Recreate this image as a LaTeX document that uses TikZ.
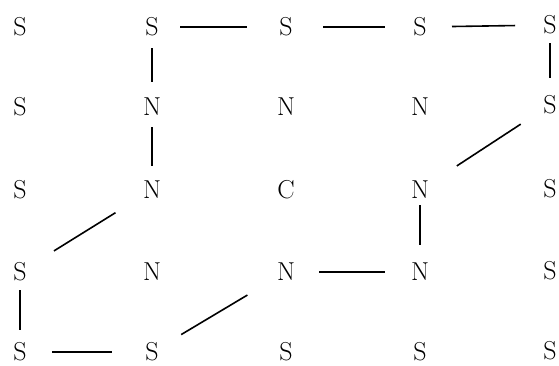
\documentclass[tikz,border=0pt]{standalone}
\usepackage{graphicx}
\newcommand\atomtxt[1]{\scalebox{1.5}{\fontsize{17.28}{20}\selectfont #1}}
\begin{document}
\begin{tikzpicture}[x=1pt,y=-1pt,
  atom/.style={inner sep=0pt},
  conn/.style={line width=1.6pt}]
\useasboundingbox (0,0) rectangle (559,365);
% row 0
\node[atom] (a00) at (20,27) {\atomtxt{S}};
\node[atom] (a01) at (152,27) {\atomtxt{S}};
\node[atom] (a02) at (286,27) {\atomtxt{S}};
\node[atom] (a03) at (420,27) {\atomtxt{S}};
\node[atom] (a04) at (550,25) {\atomtxt{S}};
% row 1
\node[atom] (a10) at (20,107) {\atomtxt{S}};
\node[atom] (a11) at (152,107) {\atomtxt{N}};
\node[atom] (a12) at (286,107) {\atomtxt{N}};
\node[atom] (a13) at (420,107) {\atomtxt{N}};
\node[atom] (a14) at (550,105) {\atomtxt{S}};
% row 2
\node[atom] (a20) at (20,190) {\atomtxt{S}};
\node[atom] (a21) at (152,190) {\atomtxt{N}};
\node[atom] (a22) at (286,190) {\atomtxt{C}};
\node[atom] (a23) at (420,190) {\atomtxt{N}};
\node[atom] (a24) at (550,189) {\atomtxt{S}};
% row 3
\node[atom] (a30) at (20,272) {\atomtxt{S}};
\node[atom] (a31) at (152,272) {\atomtxt{N}};
\node[atom] (a32) at (286,272) {\atomtxt{N}};
\node[atom] (a33) at (420,272) {\atomtxt{N}};
\node[atom] (a34) at (550,271) {\atomtxt{S}};
% row 4
\node[atom] (a40) at (20,352) {\atomtxt{S}};
\node[atom] (a41) at (152,352) {\atomtxt{S}};
\node[atom] (a42) at (286,352) {\atomtxt{S}};
\node[atom] (a43) at (420,352) {\atomtxt{S}};
\node[atom] (a44) at (550,351) {\atomtxt{S}};
% connectors
\draw[conn,shorten <=28pt,shorten >=39pt] (a01.center) -- (a02.center);
\draw[conn,shorten <=37pt,shorten >=35pt] (a02.center) -- (a03.center);
\draw[conn,shorten <=32pt,shorten >=35pt] (a03.center) -- (a04.center);
\draw[conn,shorten <=21pt,shorten >=25pt] (a01.center) -- (a11.center);
\draw[conn,shorten <=20pt,shorten >=24pt] (a11.center) -- (a21.center);
\draw[conn,shorten <=18pt,shorten >=27pt] (a04.center) -- (a14.center);
\draw[conn,shorten <=35pt,shorten >=44pt] (a14.center) -- (a23.center);
\draw[conn,shorten <=15pt,shorten >=27pt] (a23.center) -- (a33.center);
\draw[conn,shorten <=33pt,shorten >=35pt] (a32.center) -- (a33.center);
\draw[conn,shorten <=45pt,shorten >=34pt] (a32.center) -- (a41.center);
\draw[conn,shorten <=32pt,shorten >=40pt] (a40.center) -- (a41.center);
\draw[conn,shorten <=18pt,shorten >=22pt] (a30.center) -- (a40.center);
\draw[conn,shorten <=40pt,shorten >=43pt] (a30.center) -- (a21.center);
\end{tikzpicture}
\end{document}
